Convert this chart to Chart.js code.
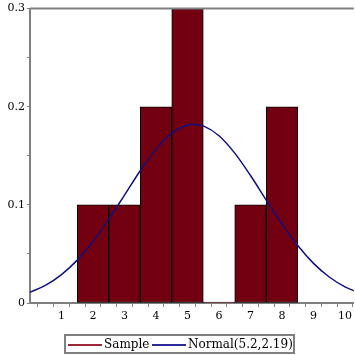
<!DOCTYPE html>
<html><head><meta charset="utf-8">
<script src="https://cdn.jsdelivr.net/npm/chart.js@4"></script>
<style>
body{margin:0;background:#fff;}
#wrap{position:relative;width:355px;height:355px;}
#legend{position:absolute;left:64px;top:334px;width:227px;height:16px;border:2px solid #808080;box-sizing:content-box;font-family:"DejaVu Serif",serif;font-size:12px;line-height:16px;white-space:nowrap;}
#legend span{position:absolute;top:0;}
.ln{position:absolute;top:8px;height:2px;}
</style></head>
<body>
<div id="wrap"><canvas id="c" width="355" height="355"></canvas>
<div id="legend">
<div class="ln" style="left:2px;width:34px;background:#9a2836"></div><span style="left:38px">Sample</span>
<div class="ln" style="left:86px;width:34px;background:#2a2a9a"></div><span style="left:122px">Normal(5.2,2.19)</span>
</div></div>
<script>
const binCenters = [2, 3, 4, 5, 6, 7, 8];
const binHeights = [0.1, 0.1, 0.2, 0.3, 0, 0.1, 0.2];
const curveX = [0, 0.5, 1, 1.5, 2, 2.5, 3, 3.5, 4, 4.5, 5, 5.2, 5.5, 6, 6.5, 7, 7.5, 8, 8.5, 9, 9.5, 10, 10.5];
const curveY = [0.0109, 0.0182, 0.0290, 0.0437, 0.0627, 0.0852, 0.1100, 0.1348, 0.1568, 0.1731, 0.1814, 0.1822, 0.1805, 0.1704, 0.1527, 0.1299, 0.1049, 0.0804, 0.0585, 0.0404, 0.0265, 0.0165, 0.0097];
const xLabels = ['1','2','3','4','5','6','7','8','9','10'];
const yLabels = ['0','0.1','0.2','0.3'];

const topLine = {id:'topLine', afterDraw(ch){const a=ch.chartArea,c=ch.ctx;c.save();c.strokeStyle='#808080';c.lineWidth=2;c.beginPath();c.moveTo(a.left,a.top);c.lineTo(a.right,a.top);c.stroke();c.restore();}};

new Chart(document.getElementById('c'), {
  data: {
    datasets: [
      {type:'line', label:'Normal(5.2,2.19)', data: curveX.map((x,i)=>({x, y:curveY[i]})), borderColor:'#10107f', borderWidth:1.5, pointRadius:0, tension:0.4, cubicInterpolationMode:'monotone', order:0, clip:true},
      {type:'bar', label:'Sample', data: binCenters.map((x,i)=>({x, y:binHeights[i]})), backgroundColor:'#730010', borderColor:'#000', borderWidth:1, borderSkipped:false, minBarLength:1, barThickness:'flex', barPercentage:1, categoryPercentage:1, order:1}
    ]
  },
  options: {
    responsive:false, animation:false,
    layout:{padding:{top:7,right:0,left:0,bottom:0}},
    plugins:{legend:{display:false}, tooltip:{enabled:false}},
    scales:{
      x:{type:'linear', min:0, max:10.28, offset:false,
        afterFit(s){s.height=52;},
        afterBuildTicks(s){const t=[];for(let i=0;i<=20;i++)t.push({value:i/2});s.ticks=t;},
        ticks:{autoSkip:false, maxRotation:0, padding:3, color:'#000', font:{family:'"DejaVu Serif", serif', size:11},
          callback(v){const r=Math.round(v); return (Math.abs(v-r)<1e-6 && r>=1) ? xLabels[r-1] : '';}},
        grid:{drawOnChartArea:false, drawTicks:true, tickLength:4, color:'#808080', lineWidth:1},
        border:{color:'#808080', width:2}},
      y:{type:'linear', min:0, max:0.3,
        afterFit(s){s.width=30;},
        afterBuildTicks(s){const t=[];for(let i=0;i<=6;i++)t.push({value:i*0.05});s.ticks=t;},
        ticks:{autoSkip:false, padding:2, color:'#000', font:{family:'"DejaVu Serif", serif', size:11},
          callback(v){const k=v*10, r=Math.round(k); return Math.abs(k-r)<1e-6 ? yLabels[r] : '';}},
        grid:{drawOnChartArea:false, drawTicks:true, tickLength:3, color:'#808080', lineWidth:1},
        border:{color:'#808080', width:2}}
    }
  },
  plugins:[topLine]
});
</script>
</body></html>
